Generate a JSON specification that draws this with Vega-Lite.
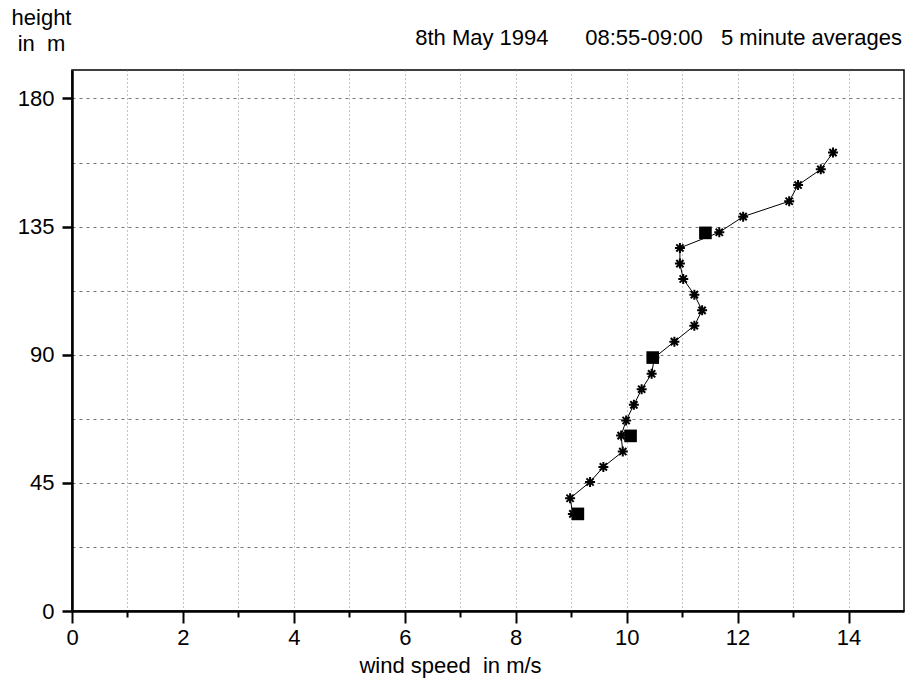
{
  "$schema": "https://vega.github.io/schema/vega-lite/v6.json",
  "autosize": {"type": "none"},
  "width": 832,
  "height": 541,
  "padding": {"left": 72, "top": 70, "right": 1, "bottom": 72},
  "background": "white",
  "config": {
    "font": "Liberation Sans",
    "view": {"stroke": "black", "strokeWidth": 1.5},
    "axis": {"labelFont": "Liberation Sans", "titleFont": "Liberation Sans", "labelColor": "black", "titleColor": "black", "titleFontWeight": "normal", "domainColor": "black", "tickColor": "black"}
  },
  "title": {
    "text": "8th May 1994\u00a0\u00a0\u00a0\u00a0\u00a0\u00a008:55-09:00\u00a0\u00a0\u00a05 minute averages",
    "anchor": "end",
    "frame": "group",
    "orient": "top",
    "baseline": "alphabetic",
    "offset": 0,
    "dy": 61,
    "dx": -2,
    "fontSize": 22,
    "fontWeight": "normal",
    "font": "Liberation Sans",
    "color": "black"
  },
  "datasets": {
    "stars": [
      {"speed": 9.03, "height": 34.1},
      {"speed": 8.98, "height": 39.6},
      {"speed": 9.34, "height": 45.3},
      {"speed": 9.58, "height": 50.6},
      {"speed": 9.93, "height": 56.0},
      {"speed": 9.90, "height": 61.6},
      {"speed": 9.99, "height": 66.9},
      {"speed": 10.13, "height": 72.4},
      {"speed": 10.27, "height": 77.9},
      {"speed": 10.45, "height": 83.3},
      {"speed": 10.50, "height": 89.0},
      {"speed": 10.86, "height": 94.6},
      {"speed": 11.22, "height": 100.2},
      {"speed": 11.36, "height": 105.6},
      {"speed": 11.22, "height": 111.1},
      {"speed": 11.02, "height": 116.6},
      {"speed": 10.96, "height": 122.0},
      {"speed": 10.96, "height": 127.5},
      {"speed": 11.67, "height": 133.0},
      {"speed": 12.10, "height": 138.5},
      {"speed": 12.93, "height": 143.9},
      {"speed": 13.09, "height": 149.6},
      {"speed": 13.50, "height": 155.1},
      {"speed": 13.72, "height": 161.0}
    ],
    "squares": [
      {"speed": 9.12, "height": 34.1},
      {"speed": 10.07, "height": 61.5},
      {"speed": 10.47, "height": 89.0},
      {"speed": 11.42, "height": 132.8}
    ]
  },
  "layer": [
    {
      "data": {"name": "stars"},
      "mark": {"type": "line", "color": "black", "strokeWidth": 1},
      "encoding": {
        "x": {
          "field": "speed", "type": "quantitative",
          "scale": {"domain": [0, 15], "nice": false, "zero": false},
          "axis": {
            "values": [0,1,2,3,4,5,6,7,8,9,10,11,12,13,14],
            "labelExpr": "datum.value % 2 == 0 ? datum.label : ''",
            "labelFontSize": 22,
            "labelPadding": 4,
            "labelFlush": false,
            "tickSize": {"condition": {"test": "datum.value % 2 == 0", "value": 12}, "value": 6},
            "tickWidth": 2,
            "domainWidth": 2.5,
            "grid": true,
            "gridColor": "#888888",
            "gridDash": [1, 3],
            "gridWidth": 1,
            "title": "wind speed\u00a0\u00a0in m/s",
            "titleFontSize": 22,
            "titleX": 378,
            "titleY": 54,
            "titleAlign": "center",
            "titleBaseline": "middle",
            "titleAnchor": null
          }
        },
        "y": {
          "field": "height", "type": "quantitative",
          "scale": {"domain": [0, 190], "nice": false, "zero": true},
          "axis": {
            "values": [0, 22.5, 45, 67.5, 90, 112.5, 135, 157.5, 180],
            "labelExpr": "datum.value % 45 == 0 ? datum.label : ''",
            "labelFontSize": 22,
            "labelPadding": 8,
            "tickSize": {"condition": {"test": "datum.value % 45 == 0", "value": 10}, "value": 0},
            "tickWidth": 2.5,
            "domainWidth": 2.5,
            "grid": true,
            "gridColor": "#777777",
            "gridDash": [3, 4],
            "gridWidth": 1,
            "title": ["height", "\u00a0in\u00a0\u00a0m"],
            "titleFontSize": 22,
            "titleAngle": 0,
            "titleAlign": "center",
            "titleBaseline": "alphabetic",
            "titleLineHeight": 26,
            "titleX": -31,
            "titleY": -46
          }
        },
        "order": {"field": "height", "type": "quantitative"}
      }
    },
    {
      "data": {"name": "stars"},
      "mark": {
        "type": "point",
        "shape": "M-1,0L1,0M0,-1L0,1M-0.72,-0.72L0.72,0.72M-0.72,0.72L0.72,-0.72",
        "filled": false,
        "stroke": "black",
        "strokeWidth": 2,
        "size": 100,
        "opacity": 1
      },
      "encoding": {
        "x": {"field": "speed", "type": "quantitative"},
        "y": {"field": "height", "type": "quantitative"}
      }
    },
    {
      "data": {"name": "squares"},
      "mark": {"type": "point", "shape": "square", "filled": true, "color": "black", "size": 160, "opacity": 1},
      "encoding": {
        "x": {"field": "speed", "type": "quantitative"},
        "y": {"field": "height", "type": "quantitative"}
      }
    }
  ]
}
